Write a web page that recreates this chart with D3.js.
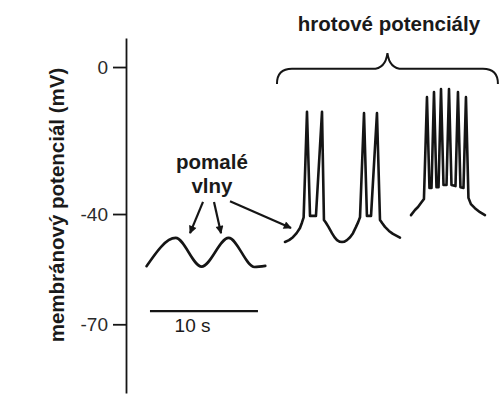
<!DOCTYPE html>
<html><head><meta charset="utf-8">
<script src="https://cdn.jsdelivr.net/npm/d3@7"></script>
<style>body{margin:0;background:#fff}svg{display:block}</style>
</head><body><svg id="c" width="499" height="403"></svg>
<script>
// ---- data ----
const yTicks = [0, -40, -70];
const yLabel = "membránový potenciál (mV)";
const yDomain = [-88.7, 7.9];      // mV
const tDomain = [0, 34.54];        // s

// slow waves (pomalé vlny)
const slowT = [1.9, 4.6, 7.0, 9.5, 11.9, 12.9];
const slowV = [-54.2, -46.5, -54.3, -46.5, -54.4, -54.1];

// spike potentials (paired spikes)
const spikeT = [14.72, 15.1, 15.46, 15.8, 16.11, 16.3, 16.45, 16.76, 17.04, 17.59, 18.15, 18.33, 18.5, 18.75, 19.07, 19.3, 19.54, 19.77, 20.0, 20.23, 20.46, 20.75, 21.02, 21.3, 21.5, 21.67, 22.04, 22.31, 22.69, 23.24, 23.52, 23.75, 23.98, 24.35, 24.72, 25.37];
const spikeV = [-47.6, -47.1, -46.3, -45.2, -43.8, -42.3, -40.9, -12.2, -40.5, -40.5, -12.2, -41.6, -42.3, -43.5, -45.2, -46.3, -47.1, -47.5, -47.6, -47.5, -47.1, -46.3, -45.2, -43.5, -42.2, -40.9, -12.5, -40.5, -40.5, -12.5, -41.6, -42.6, -43.5, -44.6, -45.4, -46.4];

// burst of spikes
const burstT = [26.39, 26.76, 27.04, 27.31, 27.59, 27.87, 28.10, 28.29, 28.52, 28.75, 28.94, 29.17, 29.40, 29.68, 29.91, 30.14, 30.51, 30.74, 30.97, 31.25, 31.48, 31.71, 31.94, 32.31, 32.78, 33.24];
const burstV = [-40.3, -38.9, -38.1, -37.0, -35.9, -8.2, -32.9, -32.9, -6.8, -32.7, -32.7, -6.0, -32.1, -32.1, -6.0, -32.1, -32.4, -6.8, -32.7, -32.9, -8.2, -35.6, -37.3, -38.4, -39.5, -40.3];

// annotations
const scaleBarT = [2.22, 12.22];
const scaleBarV = -66.4;
const scaleBarLabel = "10 s";
const slowLabel = ["pomalé", "vlny"];
const spikeLabel = "hrotové potenciály";
const arrowsFrom = [[7.13, -36.7], [8.15, -36.7], [9.63, -36.5]];
const arrowsTo   = [[5.93, -45.2], [8.8, -45.2], [15.28, -43.8]];
const braceT = [13.98, 34.44];
const braceV = { line: -0.5, tip: 3.8, ends: -4.6 };

// ---- drawing ----
const svg = d3.select("#c");
const x = d3.scaleLinear().domain(tDomain).range([126, 499]);
const y = d3.scaleLinear().domain(yDomain).range([393, 38]);
const ink = "#151515";

svg.append("defs").append("marker")
  .attr("id", "ah").attr("viewBox", "0 0 10 10").attr("refX", 9).attr("refY", 5)
  .attr("markerWidth", 11).attr("markerHeight", 8).attr("orient", "auto")
  .attr("markerUnits", "userSpaceOnUse")
  .append("path").attr("d", "M0,0 L10,5 L0,10 Z").attr("fill", ink);

// axis
const ax = svg.append("g").attr("transform", "translate(126,0)")
  .call(d3.axisLeft(y).tickValues(yTicks).tickFormat(d => String(d)).tickSize(13).tickSizeOuter(0).tickPadding(5));
ax.select(".domain").attr("stroke", ink).attr("stroke-width", 1.8);
ax.selectAll(".tick line").attr("stroke", ink).attr("stroke-width", 1.8);
ax.selectAll(".tick text").attr("fill", "#2a2a2a").style("font", "19px 'Liberation Sans', Arial, sans-serif");

svg.append("text")
  .attr("transform", "translate(64,205) rotate(-90)")
  .attr("text-anchor", "middle")
  .attr("fill", "#1a1a1a")
  .style("font", "bold 20.5px 'Liberation Sans', Arial, sans-serif")
  .text(yLabel);

// traces
const smooth = d3.line().x(d => x(d[0])).y(d => y(d[1])).curve(d3.curveMonotoneX);
const sharp = d3.line().x(d => x(d[0])).y(d => y(d[1])).curve(d3.curveLinear);
const traces = [
  { pts: d3.zip(slowT, slowV), gen: smooth },
  { pts: d3.zip(spikeT, spikeV), gen: sharp },
  { pts: d3.zip(burstT, burstV), gen: sharp }
];
svg.selectAll("path.trace").data(traces).join("path")
  .attr("class", "trace")
  .attr("d", d => d.gen(d.pts))
  .attr("fill", "none").attr("stroke", ink).attr("stroke-width", 2.6)
  .attr("stroke-linejoin", "round").attr("stroke-linecap", "round");

// scale bar
svg.append("line")
  .attr("x1", x(scaleBarT[0])).attr("x2", x(scaleBarT[1]))
  .attr("y1", y(scaleBarV)).attr("y2", y(scaleBarV))
  .attr("stroke", ink).attr("stroke-width", 2.2);
svg.append("text")
  .attr("x", x(4.5)).attr("y", y(-72.2))
  .attr("fill", "#1a1a1a")
  .style("font", "19px 'Liberation Sans', Arial, sans-serif")
  .text(scaleBarLabel);

// slow wave label
svg.append("g").selectAll("text").data(slowLabel).join("text")
  .attr("x", x(7.96)).attr("y", (d, i) => y(-27.8) + i * 23.5)
  .attr("text-anchor", "middle").attr("fill", "#1a1a1a")
  .style("font", "bold 20.5px 'Liberation Sans', Arial, sans-serif")
  .text(d => d);

// arrows
svg.append("g").selectAll("line").data(d3.zip(arrowsFrom, arrowsTo)).join("line")
  .attr("x1", d => x(d[0][0])).attr("y1", d => y(d[0][1]))
  .attr("x2", d => x(d[1][0])).attr("y2", d => y(d[1][1]))
  .attr("stroke", ink).attr("stroke-width", 2.2)
  .attr("marker-end", "url(#ah)");

// brace
const bx0 = x(braceT[0]), bx1 = x(braceT[1]), bm = (bx0 + bx1) / 2;
const yl = y(braceV.line), yt = y(braceV.tip), ye = y(braceV.ends);
svg.append("path")
  .attr("d", `M${bx0},${ye} Q${bx0},${yl} ${bx0 + 15},${yl} L${bm - 15},${yl} Q${bm - 2},${yl} ${bm},${yt} Q${bm + 2},${yl} ${bm + 15},${yl} L${bx1 - 15},${yl} Q${bx1},${yl} ${bx1},${ye}`)
  .attr("fill", "none").attr("stroke", ink).attr("stroke-width", 2);

svg.append("text")
  .attr("x", x(24.35)).attr("y", y(9.8))
  .attr("text-anchor", "middle").attr("fill", "#1a1a1a")
  .style("font", "bold 20.5px 'Liberation Sans', Arial, sans-serif")
  .text(spikeLabel);
</script>
</body></html>
